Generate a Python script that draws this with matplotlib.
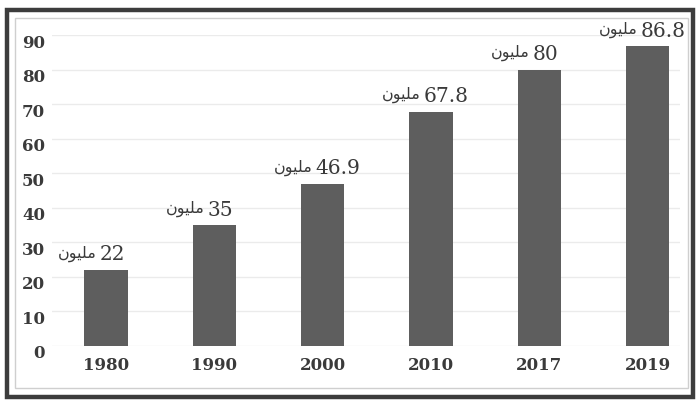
import matplotlib
matplotlib.use('Agg')
import matplotlib.pyplot as plt
import matplotlib.transforms as mtransforms
from matplotlib.patches import Rectangle

years = ['1980', '1990', '2000', '2010', '2017', '2019']
values = [22, 35, 46.9, 67.8, 80, 86.8]
value_labels = ['22', '35', '46.9', '67.8', '80', '86.8']
y_ticks = [0, 10, 20, 30, 40, 50, 60, 70, 80, 90]

# "مليون" written in presentation forms, visual order, since matplotlib does no arabic shaping
million = '\uFEE5\uFEEE\uFEF4\uFEE0\uFEE3'

W, H = 699, 409


def draw_frame(fig):
	# dark outer border of the scanned picture + thin light inner line
	fig.patches.append(Rectangle((7 / W, 1 - 397 / H), 686 / W, 387 / H, transform=fig.transFigure,
		fill=False, edgecolor='#3c3c3c', lw=3.2, zorder=5))
	fig.patches.append(Rectangle((15 / W, 1 - 388 / H), 673 / W, 370 / H, transform=fig.transFigure,
		fill=False, edgecolor='#cfcfcf', lw=1.0, zorder=5))


def plot_bars(ax):
	x = list(range(len(years)))
	bars = ax.bar(x, values, width=0.4, color='#5e5e5e', zorder=3)
	for rect, lab in zip(bars, value_labels):
		cx = rect.get_x() + rect.get_width() / 2
		top = rect.get_height()
		ax.annotate(lab, (cx, top), xytext=(-5, 4), textcoords='offset points',
			ha='left', va='bottom', fontsize=14.5, family='DejaVu Serif', color='#3a3a3a')
		ax.annotate(million, (cx, top), xytext=(-7, 6), textcoords='offset points',
			ha='right', va='bottom', fontsize=11.5, family='DejaVu Sans', color='#3a3a3a')

	ax.set_xticks(x)
	ax.set_xticklabels(years, fontsize=12, fontweight='bold', family='DejaVu Serif', color='#3a3a3a')
	ax.set_yticks(y_ticks)
	ax.set_yticklabels([str(v) for v in y_ticks], fontsize=12, fontweight='bold',
		family='DejaVu Serif', color='#3a3a3a')
	ax.set_ylim(0, 90)
	ax.set_xlim(-0.5, 5.3)
	ax.tick_params(length=0)
	ax.tick_params(axis='y', pad=5)
	ax.tick_params(axis='x', pad=8)
	# in the scan the y labels sit a little under their gridlines
	shift = mtransforms.ScaledTranslation(0, -6 / 100, ax.figure.dpi_scale_trans)
	for t in ax.get_yticklabels():
		t.set_transform(t.get_transform() + shift)
	for s in ax.spines.values():
		s.set_visible(False)
	ax.grid(axis='y', color='#ebebeb', lw=1.0, zorder=0)


fig = plt.figure(figsize=(W / 100, H / 100), dpi=100)
ax = fig.add_axes([52 / W, 1 - 346 / H, 628 / W, 311 / H])
plot_bars(ax)
draw_frame(fig)
fig.savefig('out.png', dpi=100)
